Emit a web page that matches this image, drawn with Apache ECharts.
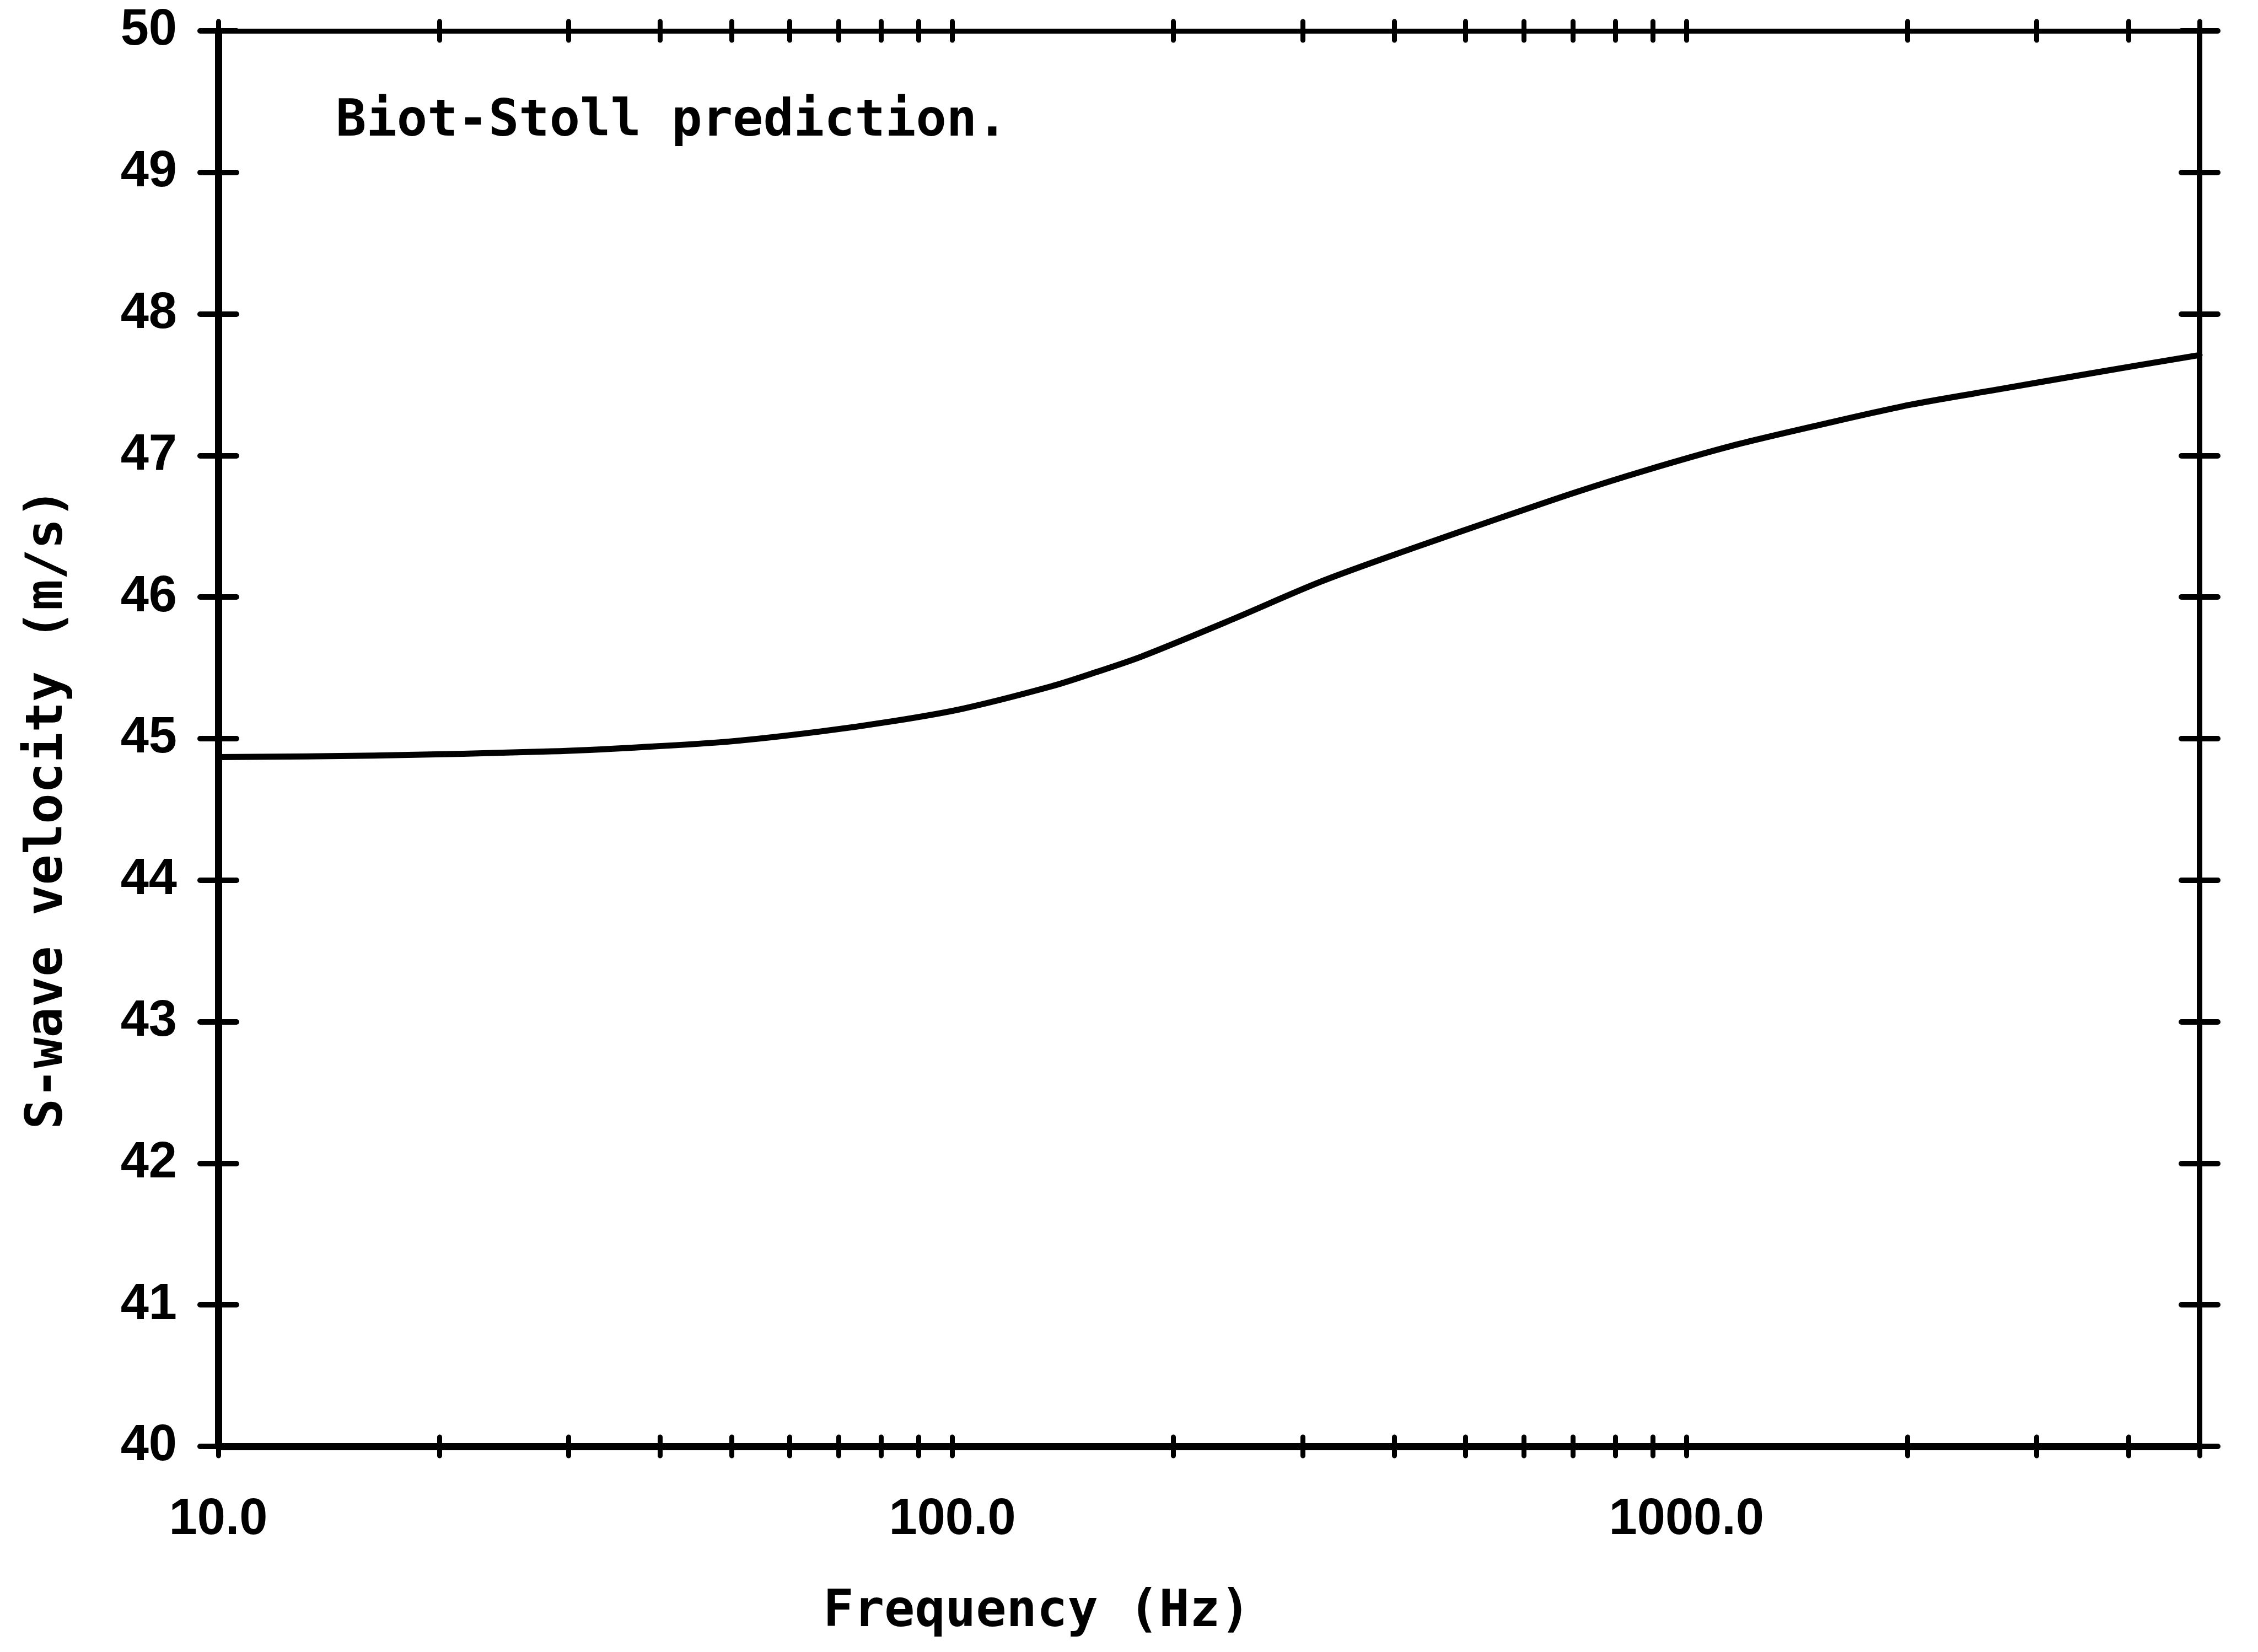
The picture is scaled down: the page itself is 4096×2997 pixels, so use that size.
<!DOCTYPE html>
<html>
<head>
<meta charset="utf-8">
<script src="https://cdn.jsdelivr.net/npm/echarts@6/dist/echarts.min.js"></script>
<style>
  html, body { margin: 0; padding: 0; background: #ffffff; }
  #chart { width: 4096px; height: 2997px; }
</style>
</head>
<body>
<div id="chart"></div>
<script>
// Biot-Stoll model: shear-wave velocity against frequency
const frequencyHz = [10, 16.3, 28.5, 37.7, 49.8, 66, 83.4, 103, 136.5, 157, 181, 240, 318, 421, 558, 706, 873, 1156, 1530, 2025, 2680, 3550, 5000];
const velocityMs  = [44.87, 44.88, 44.91, 44.94, 44.98, 45.05, 45.125, 45.21, 45.37, 45.47, 45.58, 45.84, 46.11, 46.34, 46.56, 46.74, 46.89, 47.07, 47.22, 47.36, 47.47, 47.58, 47.71];

// log-decade tick marks (major and minor) and the labelled decades
const freqTicks  = [10, 20, 30, 40, 50, 60, 70, 80, 90, 100, 200, 300, 400, 500, 600, 700, 800, 900, 1000, 2000, 3000, 4000, 5000];
const freqLabels = [10, 100, 1000];
const velocityRange = [40, 50];
const velocityStep = 1;

const annotation = 'Biot-Stoll prediction.';
const xTitle = 'Frequency (Hz)';
const yTitle = 'S-wave velocity (m/s)';

const INK = '#000000';
const TEXT_FONT = '"DejaVu Sans Mono", monospace';
const NUM_FONT = '"Liberation Sans", Arial, sans-serif';

const chart = echarts.init(document.getElementById('chart'), null, { renderer: 'canvas' });

// one frequency axis per side and tick direction, so the marks cross the frame
function freqAxis(position, inside, lineWidth, withLabels) {
  return {
    type: 'log',
    logBase: 10,
    min: 10,
    max: 5000,
    position: position,
    axisLine: { show: lineWidth > 0, onZero: false, lineStyle: { color: INK, width: lineWidth || 1, cap: 'round' } },
    axisTick: { show: true, inside: inside, length: 17, customValues: freqTicks,
                lineStyle: { color: INK, width: 9, cap: 'round' } },
    minorTick: { show: false },
    splitLine: { show: false },
    axisLabel: withLabels ? {
      show: true,
      customValues: freqLabels,
      formatter: v => Number(v).toFixed(1),
      margin: 88,
      color: INK,
      fontFamily: NUM_FONT,
      fontWeight: 'bold',
      fontSize: 92,
      showMinLabel: true,
      showMaxLabel: true
    } : { show: false }
  };
}

function velocityAxis(position, inside, lineWidth, withLabels) {
  return {
    type: 'value',
    min: velocityRange[0],
    max: velocityRange[1],
    interval: velocityStep,
    position: position,
    axisLine: { show: lineWidth > 0, onZero: false, lineStyle: { color: INK, width: lineWidth || 1, cap: 'round' } },
    axisTick: { show: true, inside: inside, length: 33, lineStyle: { color: INK, width: 10, cap: 'round' } },
    splitLine: { show: false },
    axisLabel: withLabels ? {
      show: true,
      margin: 75,
      color: INK,
      fontFamily: NUM_FONT,
      fontWeight: 'bold',
      fontSize: 92,
      showMinLabel: true,
      showMaxLabel: true
    } : { show: false }
  };
}

const option = {
  backgroundColor: '#ffffff',
  animation: false,
  grid: {
    left: 396,
    top: 56,
    width: 3594,
    height: 2568,
    containLabel: false,
    outerBoundsMode: 'none'
  },
  xAxis: [
    freqAxis('bottom', false, 13, true),
    freqAxis('bottom', true, 0, false),
    freqAxis('top', false, 9, false),
    freqAxis('top', true, 0, false)
  ],
  yAxis: [
    velocityAxis('left', false, 13, true),
    velocityAxis('left', true, 0, false),
    velocityAxis('right', false, 10, false),
    velocityAxis('right', true, 0, false)
  ],
  series: [{
    type: 'line',
    xAxisIndex: 0,
    yAxisIndex: 0,
    data: frequencyHz.map((f, i) => [f, velocityMs[i]]),
    smooth: 0.3,
    symbol: 'none',
    lineStyle: { color: INK, width: 11, cap: 'round', join: 'round' }
  }],
  graphic: [
    {
      type: 'text',
      x: 609, y: 222,
      style: {
        text: annotation,
        font: 'bold 92px ' + TEXT_FONT,
        fill: INK,
        align: 'left', verticalAlign: 'middle',
        textAlign: 'left', textVerticalAlign: 'middle'
      }
    },
    {
      type: 'text',
      x: 1881, y: 2926,
      style: {
        text: xTitle,
        font: 'bold 92px ' + TEXT_FONT,
        fill: INK,
        align: 'center', verticalAlign: 'middle',
        textAlign: 'center', textVerticalAlign: 'middle'
      }
    },
    {
      type: 'text',
      x: 88, y: 1467,
      rotation: Math.PI / 2,
      style: {
        text: yTitle,
        font: 'bold 92px ' + TEXT_FONT,
        fill: INK,
        align: 'center', verticalAlign: 'middle',
        textAlign: 'center', textVerticalAlign: 'middle'
      }
    }
  ]
};

chart.setOption(option);
</script>
</body>
</html>
